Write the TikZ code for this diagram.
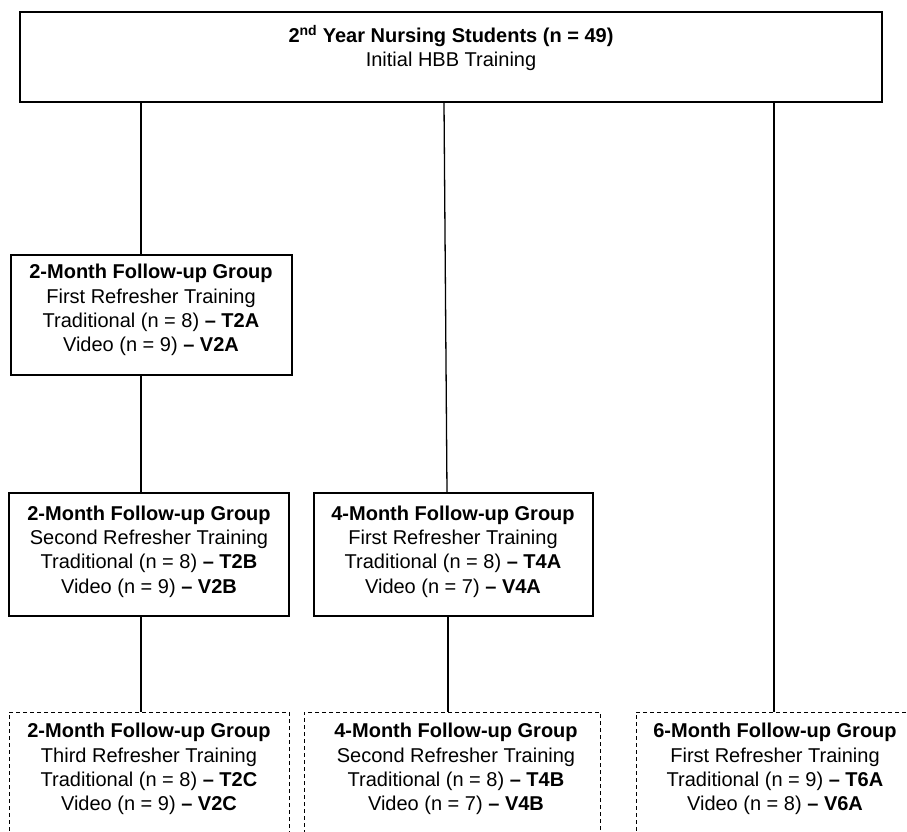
\documentclass[tikz,border=0pt]{standalone}
\usepackage{fontspec}
\setmainfont{Liberation Sans}
\begin{document}
\begin{tikzpicture}[x=1pt,y=-1pt,line width=1.3pt,
  box/.style={draw,rectangle,inner sep=0pt},
  dbox/.style={box,line width=1pt,dash pattern=on 4pt off 3pt},
  txt/.style={font=\fontsize{20}{24.3}\selectfont,inner sep=0pt,align=center},
  conn/.style={draw,line width=1.3pt}]
\useasboundingbox (0,0) rectangle (907,831);
\clip (0,0) rectangle (907,831);
% boxes
\node[box,minimum width=862pt,minimum height=90pt] (top) at (451,57) {};
\node[box,minimum width=281pt,minimum height=120pt] (a2) at (151.5,315) {};
\node[box,minimum width=280pt,minimum height=123pt] (b2) at (149,554.5) {};
\node[box,minimum width=279pt,minimum height=123pt] (a4) at (453.5,554.5) {};
\node[dbox,minimum width=280pt,minimum height=158pt] (c2) at (149,791) {};
\node[dbox,minimum width=296pt,minimum height=158pt] (b4) at (452,791) {};
\node[dbox,minimum width=280pt,minimum height=158pt] (a6) at (776,791) {};
% texts
\node[txt] (ttop) at (451,48) {\textbf{2\textsuperscript{nd} Year Nursing Students (n = 49)}\\Initial HBB Training};
\node[txt] (ta2) at (151,310) {\textbf{2-Month Follow-up Group}\\First Refresher Training\\Traditional (n = 8) \textbf{– T2A}\\Video (n = 9) \textbf{– V2A}};
\node[txt] (tb2) at (149,551.5) {\textbf{2-Month Follow-up Group}\\Second Refresher Training\\Traditional (n = 8) \textbf{– T2B}\\Video (n = 9) \textbf{– V2B}};
\node[txt] (ta4) at (453,551.5) {\textbf{4-Month Follow-up Group}\\First Refresher Training\\Traditional (n = 8) \textbf{– T4A}\\Video (n = 7) \textbf{– V4A}};
\node[txt] (tc2) at (149,769) {\textbf{2-Month Follow-up Group}\\Third Refresher Training\\Traditional (n = 8) \textbf{– T2C}\\Video (n = 9) \textbf{– V2C}};
\node[txt] (tb4) at (456,769) {\textbf{4-Month Follow-up Group}\\Second Refresher Training\\Traditional (n = 8) \textbf{– T4B}\\Video (n = 7) \textbf{– V4B}};
\node[txt] (ta6) at (775,769) {\textbf{6-Month Follow-up Group}\\First Refresher Training\\Traditional (n = 9) \textbf{– T6A}\\Video (n = 8) \textbf{– V6A}};
% connector columns
\coordinate (l1) at (141,0);
\coordinate (l2a) at (444,0);
\coordinate (l2b) at (447,0);
\coordinate (l2c) at (448,0);
\coordinate (l3) at (774,0);
\path[conn] (top.south -| l1) -- (a2.north -| l1);
\path[conn] (a2.south -| l1) -- (b2.north -| l1);
\path[conn] (b2.south -| l1) -- (c2.north -| l1);
\path[conn] (top.south -| l2a) -- (a4.north -| l2b);
\path[conn] (a4.south -| l2c) -- (b4.north -| l2c);
\path[conn] (top.south -| l3) -- (a6.north -| l3);
\end{tikzpicture}
\end{document}
